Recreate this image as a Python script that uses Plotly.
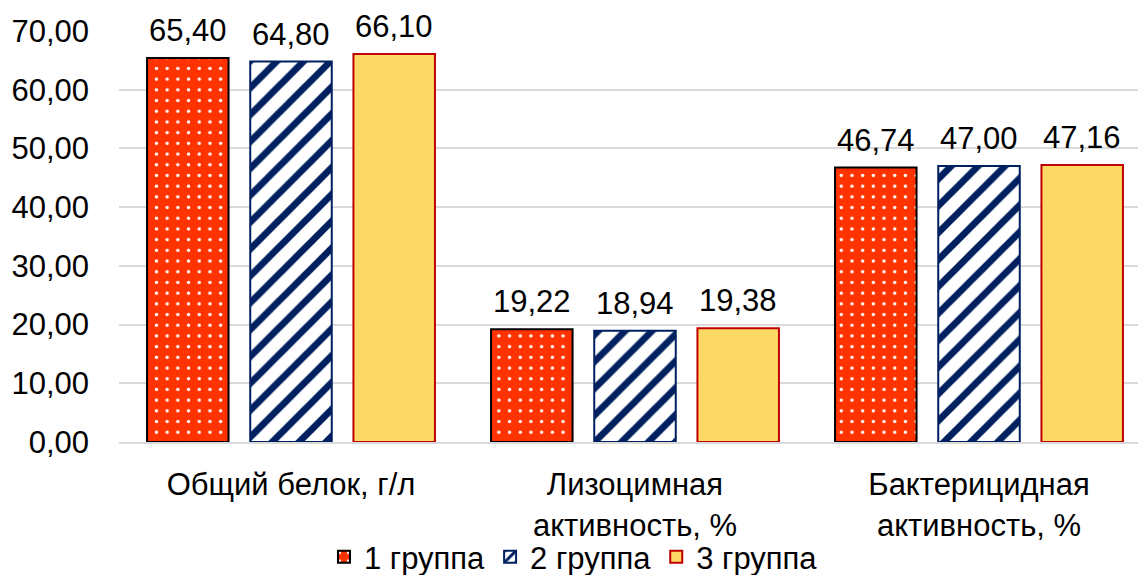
import plotly.graph_objects as go

# Показатели сыворотки крови по группам
categories = ["Общий белок, г/л", "Лизоцимная<br>активность, %", "Бактерицидная<br>активность, %"]
group_names = ["1 группа", "2 группа", "3 группа"]
group1 = [65.40, 19.22, 46.74]
group2 = [64.80, 18.94, 47.00]
group3 = [66.10, 19.38, 47.16]
y_ticks = [0, 10, 20, 30, 40, 50, 60, 70]

FONT = "Liberation Sans, Arial, sans-serif"
FS = 31
BARGAP = 0.10
GROUPGAP = 0.21

styles = [
    dict(color="#FF3300", marker_line=dict(color="#000000", width=2),
         pattern=dict(shape=".", fgcolor="#FFFFFF", bgcolor="#FF3300", size=10.7, solidity=0.08, fillmode="replace")),
    dict(color="#FFFFFF", marker_line=dict(color="#002060", width=2),
         pattern=dict(shape="/", fgcolor="#002060", bgcolor="#FFFFFF", size=19, solidity=0.36, fillmode="replace")),
    dict(color="#FFD966", marker_line=dict(color="#C00000", width=2),
         pattern=None),
]

series = [group1, group2, group3]

fig = go.Figure()
for name, vals, st in zip(group_names, series, styles):
    marker = dict(color=st["color"], line=st["marker_line"])
    if st["pattern"] is not None:
        marker["pattern"] = st["pattern"]
    fig.add_trace(go.Bar(x=categories, y=vals, name=name, marker=marker, cliponaxis=False))

# Value labels above each bar, positioned from the same grouped-bar geometry
slot = (1 - BARGAP) / len(series)
annotations = []
for si, vals in enumerate(series):
    for ci, v in enumerate(vals):
        annotations.append(dict(
            x=ci + (si - (len(series) - 1) / 2) * slot, y=v, xref="x", yref="y",
            text=f"{v:.2f}".replace(".", ","), showarrow=False,
            yanchor="bottom", yshift=8,
            font=dict(family=FONT, size=FS, color="#000000"),
        ))

fig.update_layout(
    width=1138, height=575,
    margin=dict(l=119, r=0, t=31, b=133, autoexpand=False),
    paper_bgcolor="#FFFFFF", plot_bgcolor="#FFFFFF",
    barmode="group", bargap=BARGAP, bargroupgap=GROUPGAP,
    separators=", ",
    font=dict(family=FONT, size=FS, color="#000000"),
    annotations=annotations,
    showlegend=True,
    legend=dict(orientation="h", x=0.446, xanchor="center", y=-0.28, yanchor="middle",
                font=dict(family=FONT, size=FS, color="#000000"),
                itemwidth=30, tracegroupgap=0, bgcolor="rgba(0,0,0,0)"),
)

fig.update_xaxes(
    range=[-0.5, -0.5 + 1019 / 344],
    showgrid=False, showline=True, linecolor="#D9D9D9", linewidth=2,
    ticks="", ticklabelstandoff=14, automargin=False,
    tickfont=dict(family=FONT, size=FS, color="#000000"),
    zeroline=False,
)
fig.update_yaxes(
    range=[0, 70], tickvals=y_ticks, tickformat=".2f",
    showgrid=True, gridcolor="#D9D9D9", gridwidth=1.5,
    showline=False, zeroline=False, ticks="", ticklabelstandoff=29, automargin=False,
    tickfont=dict(family=FONT, size=FS, color="#000000"),
)

fig.write_html("out.html")
